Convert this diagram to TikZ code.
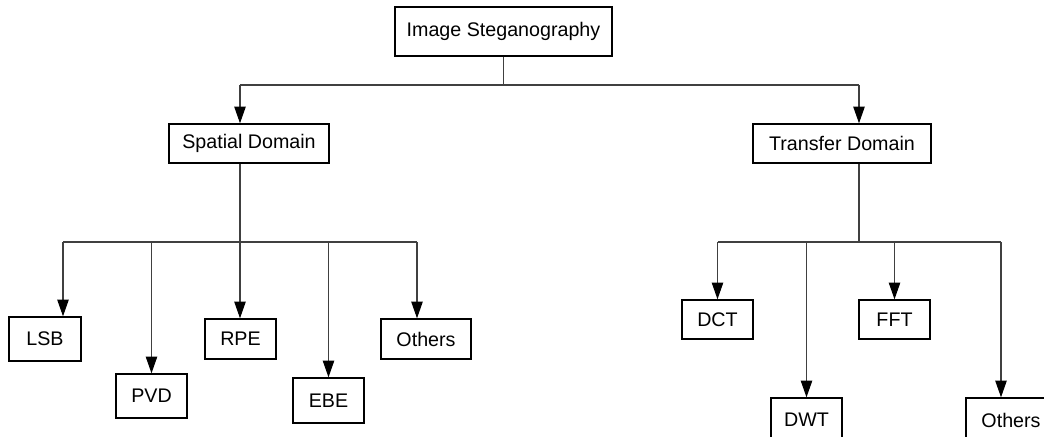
\documentclass[tikz,border=0pt]{standalone}
\usepackage{fontspec}
\setmainfont{Liberation Sans}
\usetikzlibrary{arrows.meta}

\begin{document}
\begin{tikzpicture}[x=0.02cm, y=-0.02cm,
  >={Triangle[length=9.5pt,width=6.5pt,color=black]},
  box/.style={draw, line width=0.8pt, inner sep=0pt, font=\fontsize{11.2}{13}\selectfont},
  link/.style={draw=black!75, line width=0.6pt}]

\useasboundingbox (0,0) rectangle (1044,436);

% root and domains
\node[box, minimum width=4.34cm, minimum height=0.98cm] (img) at (503.5,31.5) {Image Steganography};
\node[box, minimum width=3.2cm, minimum height=0.78cm] (sp) at (249,143.5) {Spatial Domain};
\node[box, minimum width=3.56cm, minimum height=0.78cm] (td) at (842,143.5) {Transfer Domain};

% spatial domain methods
\node[box, minimum width=1.44cm, minimum height=0.88cm] (lsb) at (45,339) {LSB};
\node[box, minimum width=1.42cm, minimum height=0.88cm] (pvd) at (151.5,396) {PVD};
\node[box, minimum width=1.42cm, minimum height=0.8cm] (rpe) at (240.5,339) {RPE};
\node[box, minimum width=1.42cm, minimum height=0.9cm] (ebe) at (328.5,400.5) {EBE};
\node[box, minimum width=1.8cm, minimum height=0.8cm] (oth1) at (426,339) {Others};

% transfer domain methods
\node[box, minimum width=1.42cm, minimum height=0.78cm] (dct) at (717.5,319.5) {DCT};
\node[box, minimum width=1.42cm, minimum height=0.78cm] (fft) at (894.5,319.5) {FFT};
\node[box, minimum width=1.42cm, minimum height=0.88cm] (dwt) at (806.5,420) {DWT};
\node[box, minimum width=1.8cm, minimum height=0.88cm] (oth2) at (1011,420) {Others};

% bus points
\coordinate (tbus) at (506,85);
\coordinate (sbus) at (240,242);
\coordinate (dbus) at (859,242);
\coordinate (c1) at (63,242);
\coordinate (c5) at (417,242);
\coordinate (c9) at (1001,242);

% root to domains
\draw[link] (img.south) -- (img.south |- tbus);
\draw[link] (sbus |- tbus) -- (dbus |- tbus);
\draw[link,->] (sbus |- tbus) -- (sp.north -| sbus);
\draw[link,->] (dbus |- tbus) -- (td.north -| dbus);

% spatial domain branch
\draw[link] (sp.south -| sbus) -- (sbus);
\draw[link] (c1) -- (c5);
\draw[link,->] (c1) -- (lsb.north -| c1);
\draw[link,->] (pvd |- sbus) -- (pvd.north);
\draw[link,->] (sbus) -- (rpe.north -| sbus);
\draw[link,->] (ebe |- sbus) -- (ebe.north);
\draw[link,->] (c5) -- (oth1.north -| c5);

% transfer domain branch
\draw[link] (td.south -| dbus) -- (dbus);
\draw[link] (dct |- dbus) -- (c9);
\draw[link,->] (dct |- dbus) -- (dct.north);
\draw[link,->] (dwt |- dbus) -- (dwt.north);
\draw[link,->] (fft |- dbus) -- (fft.north);
\draw[link,->] (c9) -- (oth2.north -| c9);

\end{tikzpicture}
\end{document}
